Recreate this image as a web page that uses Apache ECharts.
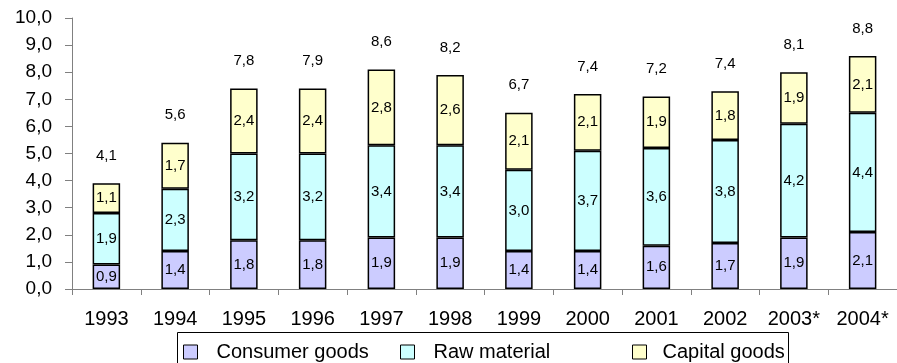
<!DOCTYPE html>
<html>
<head>
<meta charset="utf-8">
<style>
  html, body { margin: 0; padding: 0; background: #ffffff; }
  #chart { width: 897px; height: 363px; }
</style>
<script src="https://cdn.jsdelivr.net/npm/echarts@6/dist/echarts.min.js"></script>
</head>
<body>
<div id="chart"></div>
<script>
// Import structure by group of goods, stacked per year
const years = ['1993', '1994', '1995', '1996', '1997', '1998', '1999', '2000', '2001', '2002', '2003*', '2004*'];
const consumerGoods = [0.9, 1.4, 1.8, 1.8, 1.9, 1.9, 1.4, 1.4, 1.6, 1.7, 1.9, 2.1];
const rawMaterial   = [1.9, 2.3, 3.2, 3.2, 3.4, 3.4, 3.0, 3.7, 3.6, 3.8, 4.2, 4.4];
const capitalGoods  = [1.1, 1.7, 2.4, 2.4, 2.8, 2.6, 2.1, 2.1, 1.9, 1.8, 1.9, 2.1];
const totals        = [4.1, 5.6, 7.8, 7.9, 8.6, 8.2, 6.7, 7.4, 7.2, 7.4, 8.1, 8.8];
const seriesNames   = ['Consumer goods', 'Raw material', 'Capital goods'];
const seriesColors  = ['#ccccff', '#ccffff', '#ffffcc'];

const FONT = '"Liberation Sans", Arial, sans-serif';
const fmt = v => Number(v).toFixed(1).replace('.', ',');

const chart = echarts.init(document.getElementById('chart'), null, { renderer: 'canvas' });

function segment(name, values, color) {
  return {
    name: name,
    type: 'bar',
    stack: 'total',
    barWidth: '40%',
    data: values,
    itemStyle: { color: color, borderColor: '#000000', borderWidth: 1.5 },
    label: {
      show: true,
      position: 'inside',
      color: '#000000',
      fontFamily: FONT,
      fontSize: 15,
      formatter: p => fmt(p.value)
    },
    emphasis: { disabled: true }
  };
}

function legendItem(name, left, gap) {
  return {
    data: [name],
    left: left,
    top: 342,
    icon: 'rect',
    itemWidth: 14,
    itemHeight: 14,
    padding: 0,
    itemStyle: { borderColor: '#000000', borderWidth: 1 },
    textStyle: { fontFamily: FONT, fontSize: 20, color: '#000000', padding: [0, 0, 0, gap] },
    selectedMode: false
  };
}

const option = {
  backgroundColor: '#ffffff',
  animation: false,
  grid: { left: 72, top: 18, bottom: 74, width: 835, containLabel: false },
  xAxis: {
    type: 'category',
    data: years,
    boundaryGap: true,
    axisLine: { lineStyle: { color: '#808080', width: 1 } },
    axisTick: { show: true, alignWithLabel: false, length: 6, lineStyle: { color: '#808080' } },
    axisLabel: { color: '#000000', fontFamily: FONT, fontSize: 20, margin: 20, interval: 0 }
  },
  yAxis: {
    type: 'value',
    min: 0,
    max: 10,
    interval: 1,
    splitLine: { show: false },
    axisLine: { show: true, lineStyle: { color: '#808080', width: 1 } },
    axisTick: { show: true, length: 7, lineStyle: { color: '#808080' } },
    axisLabel: { color: '#000000', fontFamily: FONT, fontSize: 19, margin: 20, formatter: v => fmt(v) }
  },
  legend: [
    legendItem(seriesNames[0], 183, 14),
    legendItem(seriesNames[1], 400, 14),
    legendItem(seriesNames[2], 632, 11)
  ],
  graphic: [{
    type: 'rect',
    left: 175,
    top: 330,
    z: -1,
    shape: { width: 611, height: 60 },
    style: { fill: 'none', stroke: '#000000', lineWidth: 1 }
  }],
  series: [
    segment(seriesNames[0], consumerGoods, seriesColors[0]),
    segment(seriesNames[1], rawMaterial, seriesColors[1]),
    segment(seriesNames[2], capitalGoods, seriesColors[2]),
    {
      // zero-height carrier on top of each stack for the yearly total label
      name: 'Total',
      type: 'bar',
      stack: 'total',
      barWidth: '40%',
      data: years.map(() => 0),
      itemStyle: { color: 'rgba(0,0,0,0)', borderWidth: 0 },
      label: {
        show: true,
        position: 'top',
        distance: 20,
        color: '#000000',
        fontFamily: FONT,
        fontSize: 15,
        formatter: p => fmt(totals[p.dataIndex])
      },
      emphasis: { disabled: true }
    }
  ]
};

chart.setOption(option);
</script>
</body>
</html>
